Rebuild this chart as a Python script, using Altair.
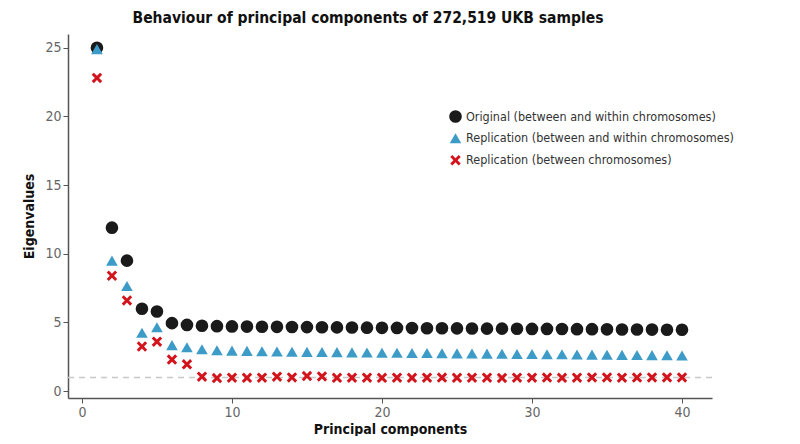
import altair as alt
import pandas as pd

pcs = list(range(1, 41))
original = [25.0, 11.9, 9.5, 6.0, 5.8, 4.95, 4.82, 4.76, 4.73, 4.71,
            4.70, 4.69, 4.68, 4.67, 4.66, 4.65, 4.64, 4.63, 4.62, 4.61,
            4.60, 4.59, 4.58, 4.58, 4.57, 4.56, 4.55, 4.55, 4.54, 4.53,
            4.53, 4.52, 4.51, 4.51, 4.50, 4.49, 4.49, 4.48, 4.47, 4.47]
replication_all = [24.9, 9.5, 7.65, 4.25, 4.65, 3.35, 3.2, 3.05, 2.98, 2.95,
                   2.93, 2.91, 2.89, 2.87, 2.86, 2.85, 2.84, 2.82, 2.81, 2.80,
                   2.79, 2.78, 2.77, 2.76, 2.75, 2.74, 2.73, 2.72, 2.71, 2.70,
                   2.69, 2.68, 2.67, 2.66, 2.65, 2.64, 2.63, 2.62, 2.61, 2.60]
replication_between = [22.8, 8.4, 6.6, 3.25, 3.6, 2.3, 1.95, 1.05, 0.95, 0.98,
                        0.97, 0.98, 1.05, 1.0, 1.1, 1.07, 0.97, 0.98, 0.98, 0.97,
                        0.98, 0.97, 0.98, 0.99, 0.97, 0.98, 0.98, 0.96, 0.98, 0.98,
                        0.99, 0.97, 0.98, 1.0, 1.0, 0.98, 0.99, 1.0, 1.0, 1.0]
series_names = ["Original (between and within chromosomes)",
                "Replication (between and within chromosomes)",
                "Replication (between chromosomes)"]
threshold = [1.0]

rows = []
for i, (name, vals) in enumerate(zip(series_names, [original, replication_all, replication_between])):
    for pc, v in zip(pcs, vals):
        rows.append({"pc": pc, "value": v, "series": name, "layer": i})
df = pd.DataFrame(rows)

FONT = "DejaVu Sans Condensed, Lato, sans-serif"
xpath = "M-1,-0.6L-0.6,-1L0,-0.4L0.6,-1L1,-0.6L0.4,0L1,0.6L0.6,1L0,0.4L-0.6,1L-1,0.6L-0.4,0Z"

xscale = alt.Scale(domain=[-0.93, 42], nice=False, zero=False)
yscale = alt.Scale(domain=[-0.5, 26], nice=False, zero=False)

rule = alt.Chart(pd.DataFrame({"y": threshold})).mark_rule(
    color="#c8c8c8", strokeDash=[6, 5], strokeWidth=1.5
).encode(y=alt.Y("y:Q", scale=yscale))

points = alt.Chart(df).mark_point(filled=True, opacity=1).encode(
    x=alt.X("pc:Q", scale=xscale, title="Principal components",
            axis=alt.Axis(values=[0, 10, 20, 30, 40], grid=False)),
    y=alt.Y("value:Q", scale=yscale, title="Eigenvalues",
            axis=alt.Axis(values=[0, 5, 10, 15, 20, 25], grid=False)),
    color=alt.Color("series:N", scale=alt.Scale(domain=series_names,
                    range=["#1a1a1a", "#3d9bc7", "#d2141c"]),
                    legend=alt.Legend(title=None, orient="none", legendX=381, legendY=76,
                                      labelFontSize=12.5, labelColor="#333333", labelLimit=0,
                                      labelFont=FONT, symbolSize=110, rowPadding=9,
                                      symbolStrokeWidth=0)),
    shape=alt.Shape("series:N", scale=alt.Scale(domain=series_names,
                    range=["circle", "triangle-up", xpath])),
    size=alt.Size("series:N", scale=alt.Scale(domain=series_names, range=[160, 110, 70]),
                  legend=None),
    order=alt.Order("layer:Q", sort="ascending"),
)

chart = alt.layer(rule, points).properties(
    width=644, height=364,
    autosize=alt.AutoSizeParams(type="none"),
    padding={"left": 60, "top": 26, "right": 70, "bottom": 38},
    title=alt.TitleParams("Behaviour of principal components of 272,519 UKB samples",
                          font=FONT, fontSize=15.5, fontWeight="bold", color="#111111",
                          anchor="middle", dx=-22, offset=8),
).configure_view(stroke=None).configure_axis(
    domainColor="#555555", tickColor="#555555", labelColor="#666666",
    labelFontSize=14, labelFont=FONT, titleFont=FONT, titleFontSize=14,
    titleFontWeight="bold", titleColor="#111111", domainWidth=1.5, tickSize=5,
).configure_axisY(titlePadding=8).configure_axisX(titlePadding=3, labelPadding=2)

chart.save("out.html", embed_options={"renderer": "svg", "actions": False})
